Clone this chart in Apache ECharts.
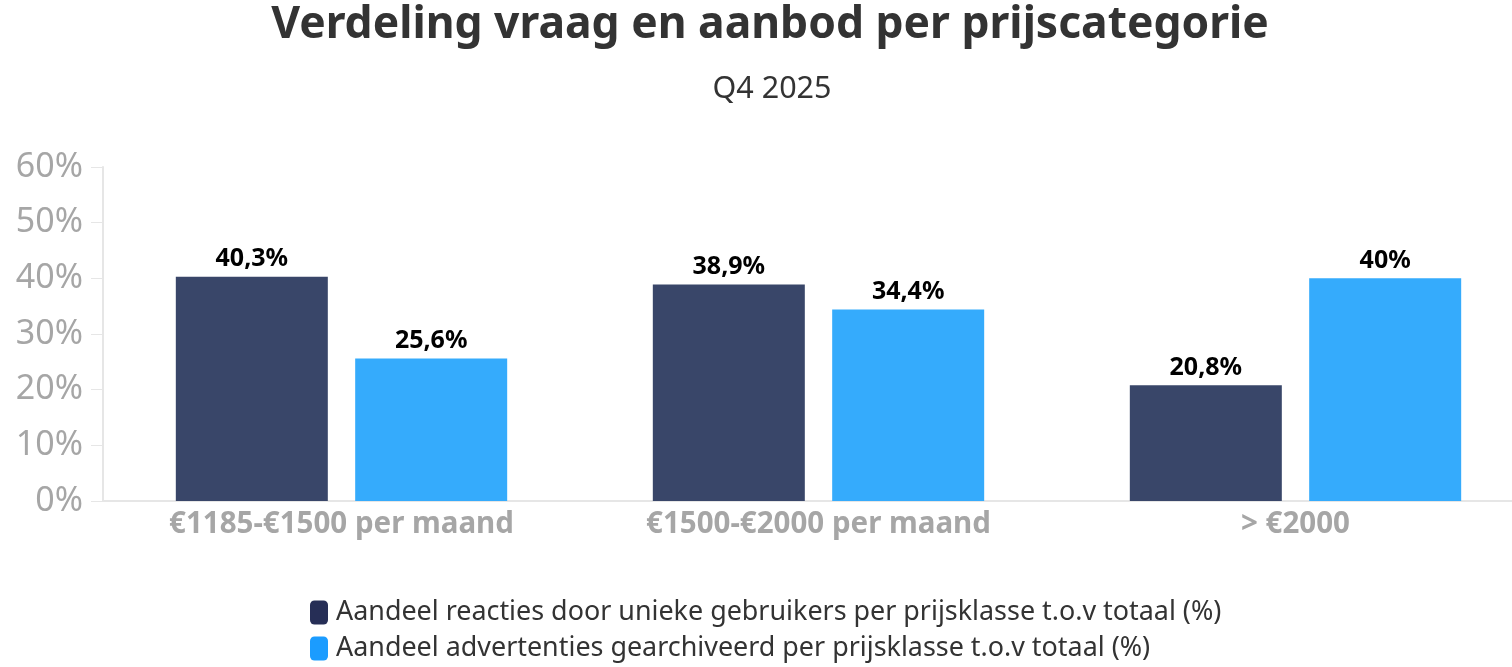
<!DOCTYPE html>
<html><head><meta charset="utf-8">
<script src="https://cdn.jsdelivr.net/npm/echarts@6/dist/echarts.min.js"></script>
<style>html,body{margin:0;padding:0;background:#fff}#c{width:1512px;height:667px}</style>
</head><body><div id="c"></div>
<script>
var categories = ['€1185-€1500 per maand', '€1500-€2000 per maand', '> €2000'];
var seriesNames = ['Aandeel reacties door unieke gebruikers per prijsklasse t.o.v totaal (%)', 'Aandeel advertenties gearchiveerd per prijsklasse t.o.v totaal (%)'];
var reacties = [40.3, 38.9, 20.8];
var advertenties = [25.6, 34.4, 40];
var yTicks = [0, 10, 20, 30, 40, 50, 60];

var FONT = '"Noto Sans", sans-serif';
var chart = echarts.init(document.getElementById('c'));
function lbl(p){ return String(p.value).replace('.', ',') + '%'; }
var labelStyle = {show: true, position: 'top', formatter: lbl, fontFamily: FONT, fontWeight: 'bold', fontSize: 25, color: '#000', distance: 5};
chart.setOption({
  animation: false,
  title: [
    {text: 'Verdeling vraag en aanbod per prijscategorie', left: 765, textAlign: 'center', top: -2,
     textStyle: {fontFamily: FONT, fontWeight: 'bold', fontSize: 44.4, color: '#333'}},
    {text: 'Q4 2025', left: 767, textAlign: 'center', top: 69,
     textStyle: {fontFamily: FONT, fontWeight: 'normal', fontSize: 30.5, color: '#333'}}
  ],
  legend: {
    orient: 'vertical', left: 310, top: 599, itemGap: 9, itemWidth: 18, itemHeight: 24,
    icon: 'roundRect', padding: 0,
    textStyle: {fontFamily: FONT, fontSize: 26.9, color: '#333', padding: [0, 0, 0, 3]},
    data: [
      {name: seriesNames[0], itemStyle: {color: '#262e56'}},
      {name: seriesNames[1], itemStyle: {color: '#1b9cff'}}
    ]
  },
  grid: {left: 103, top: 167, width: 1431, height: 334, outerBoundsMode: 'none', containLabel: false},
  xAxis: {
    type: 'category', data: categories,
    axisLine: {lineStyle: {color: '#e6e6e6', width: 2}},
    axisTick: {alignWithLabel: true, length: 10, lineStyle: {color: '#e6e6e6'}},
    axisLabel: {fontFamily: FONT, fontWeight: 'bold', fontSize: 29.5, color: '#a6a6a6', margin: 9}
  },
  yAxis: {
    type: 'value', min: yTicks[0], max: yTicks[yTicks.length-1], interval: 10,
    axisLine: {show: true, lineStyle: {color: '#e6e6e6', width: 2}},
    axisTick: {show: true, length: 12, lineStyle: {color: '#e6e6e6'}},
    splitLine: {show: false},
    axisLabel: {fontFamily: FONT, fontSize: 34, color: '#a6a6a6', margin: 20, formatter: '{value}%'}
  },
  series: [
    {name: seriesNames[0], type: 'bar', data: reacties, barWidth: 152, barGap: '18%',
     itemStyle: {color: '#394669'}, label: labelStyle},
    {name: seriesNames[1], type: 'bar', data: advertenties, barWidth: 152,
     itemStyle: {color: '#35abfc'}, label: labelStyle}
  ]
});
</script></body></html>
